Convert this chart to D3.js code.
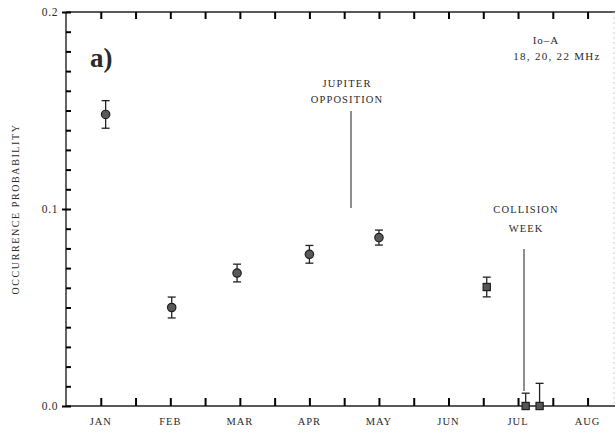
<!DOCTYPE html>
<html>
<head>
<meta charset="utf-8">
<script src="https://cdn.jsdelivr.net/npm/d3@7"></script>
<style>
  html, body { margin: 0; padding: 0; background: #fff; }
  svg { display: block; }
  text { font-family: "Liberation Serif", "DejaVu Serif", serif; fill: #2a2a2a; }
</style>
</head>
<body>
<svg id="chart" width="615" height="432"></svg>
<script>
// Io-A occurrence probability through the apparition (month position, value, error bars)
const monthLabels = ["JAN", "FEB", "MAR", "APR", "MAY", "JUN", "JUL", "AUG"];
const pointMonth  = [1.07, 2.02, 2.96, 4.00, 5.00, 6.55, 7.11, 7.31];
const pointValue  = [0.148, 0.050, 0.0675, 0.077, 0.0855, 0.0604, 0.000, 0.000];
const errLow      = [0.007, 0.0053, 0.0045, 0.0045, 0.0038, 0.005, 0.000, 0.000];
const errHigh     = [0.007, 0.0053, 0.0045, 0.0045, 0.0038, 0.005, 0.0065, 0.0115];
const pointShape  = ["circle", "circle", "circle", "circle", "circle", "square", "square", "square"];
const yTickLabels = [0.0, 0.1, 0.2];

const ink = "#222";
const svg = d3.select("#chart");

const x = d3.scaleLinear().domain([0.5, 8.38]).range([66, 614]);
const y = d3.scaleLinear().domain([0, 0.2]).range([406, 12]);

const halfMonths = d3.range(2, 17).map(i => i / 2);
const hundredths = d3.range(0, 21).map(i => i / 100);

// Frame: bottom, top and left edges solid, right edge faint
svg.append("line").attr("x1", 66).attr("x2", 615).attr("y1", y(0)).attr("y2", y(0))
  .attr("stroke", ink).attr("stroke-width", 1.6);
svg.append("line").attr("x1", 66).attr("x2", 615).attr("y1", y(0.2)).attr("y2", y(0.2))
  .attr("stroke", ink).attr("stroke-width", 1.4);
svg.append("line").attr("x1", 66).attr("x2", 66).attr("y1", y(0.2)).attr("y2", y(0))
  .attr("stroke", ink).attr("stroke-width", 1.4);
svg.append("line").attr("x1", 614).attr("x2", 614).attr("y1", y(0.2)).attr("y2", y(0))
  .attr("stroke", "#cfcfcf").attr("stroke-width", 1).attr("stroke-dasharray", "2,3");

// Inward ticks from the library axes: half months on bottom and top, 0.01 steps on the left
const styleTicks = g => {
  g.select(".domain").remove();
  g.selectAll(".tick line").attr("stroke", "#000").attr("stroke-width", 2);
  g.selectAll(".tick text").remove();
};
svg.append("g").attr("transform", `translate(0,${y(0)})`)
  .call(d3.axisBottom(x).tickValues(halfMonths).tickSize(-8)).call(styleTicks);
svg.append("g").attr("transform", `translate(0,${y(0.2)})`)
  .call(d3.axisTop(x).tickValues(halfMonths).tickSize(-7)).call(styleTicks);
svg.append("g").attr("transform", "translate(66,0)")
  .call(d3.axisLeft(y).tickValues(hundredths).tickSize(-5)).call(styleTicks);
svg.append("g").attr("transform", "translate(66,0)")
  .call(d3.axisLeft(y).tickValues(yTickLabels).tickSize(4)).call(styleTicks);

// Month labels
svg.append("g").selectAll("text").data(monthLabels).join("text")
  .attr("x", (d, i) => x(i + 1)).attr("y", 425)
  .attr("text-anchor", "middle").attr("font-size", 10.5).attr("letter-spacing", 1)
  .text(d => d);

// Value labels
svg.append("g").selectAll("text").data(yTickLabels).join("text")
  .attr("x", 58).attr("y", d => y(d) + 4)
  .attr("text-anchor", "end").attr("font-size", 11.5).attr("letter-spacing", 0.6)
  .text(d => d.toFixed(1));

svg.append("text")
  .attr("transform", `translate(19,${y(0.1)}) rotate(-90)`)
  .attr("text-anchor", "middle").attr("font-size", 10).attr("letter-spacing", 1.6)
  .text("OCCURRENCE PROBABILITY");

// Error bars
const points = pointMonth.map((m, i) => ({
  m, v: pointValue[i], lo: pointValue[i] - errLow[i], hi: pointValue[i] + errHigh[i],
  hasLow: errLow[i] > 0, shape: pointShape[i]
}));

const bars = svg.append("g").attr("stroke", ink).attr("stroke-width", 1.3);
bars.selectAll("line.stem").data(points).join("line").attr("class", "stem")
  .attr("x1", p => x(p.m)).attr("x2", p => x(p.m)).attr("y1", p => y(p.hi)).attr("y2", p => y(p.lo));
bars.selectAll("line.capTop").data(points).join("line").attr("class", "capTop")
  .attr("x1", p => x(p.m) - 4).attr("x2", p => x(p.m) + 4).attr("y1", p => y(p.hi)).attr("y2", p => y(p.hi));
bars.selectAll("line.capLow").data(points.filter(p => p.hasLow)).join("line").attr("class", "capLow")
  .attr("x1", p => x(p.m) - 4).attr("x2", p => x(p.m) + 4).attr("y1", p => y(p.lo)).attr("y2", p => y(p.lo));

// Markers
const marks = svg.append("g");
marks.selectAll("circle").data(points.filter(p => p.shape === "circle")).join("circle")
  .attr("cx", p => x(p.m)).attr("cy", p => y(p.v)).attr("r", 4.2)
  .attr("fill", "#5a5a5a").attr("stroke", "#1e1e1e").attr("stroke-width", 1.2);
marks.selectAll("rect").data(points.filter(p => p.shape === "square")).join("rect")
  .attr("x", p => x(p.m) - 3.6).attr("y", p => y(p.v) - 3.6).attr("width", 7.2).attr("height", 7.2)
  .attr("fill", "#555").attr("stroke", "#1e1e1e").attr("stroke-width", 1.2);

// Panel label and annotations
svg.append("text").attr("x", 90).attr("y", 67)
  .attr("font-size", 27).attr("font-weight", "bold").text("a)");

svg.append("text").attr("x", 546).attr("y", 44).attr("text-anchor", "middle")
  .attr("font-size", 11).attr("letter-spacing", 1).text("Io\u2013A");
svg.append("text").attr("x", 557).attr("y", 60).attr("text-anchor", "middle")
  .attr("font-size", 11).attr("letter-spacing", 1.3).text("18, 20, 22 MHz");

svg.append("text").attr("x", 347).attr("y", 87).attr("text-anchor", "middle")
  .attr("font-size", 10.5).attr("letter-spacing", 1.2).text("JUPITER");
svg.append("text").attr("x", 347).attr("y", 103).attr("text-anchor", "middle")
  .attr("font-size", 10.5).attr("letter-spacing", 1.1).text("OPPOSITION");
svg.append("line").attr("x1", 351).attr("x2", 351).attr("y1", 111).attr("y2", 208)
  .attr("stroke", "#444").attr("stroke-width", 1.2);

svg.append("text").attr("x", 526).attr("y", 213).attr("text-anchor", "middle")
  .attr("font-size", 10.5).attr("letter-spacing", 1.1).text("COLLISION");
svg.append("text").attr("x", 526).attr("y", 232).attr("text-anchor", "middle")
  .attr("font-size", 10.5).attr("letter-spacing", 1.1).text("WEEK");
svg.append("line").attr("x1", 524).attr("x2", 524).attr("y1", 249).attr("y2", 391)
  .attr("stroke", "#444").attr("stroke-width", 1.2);
</script>
</body>
</html>
